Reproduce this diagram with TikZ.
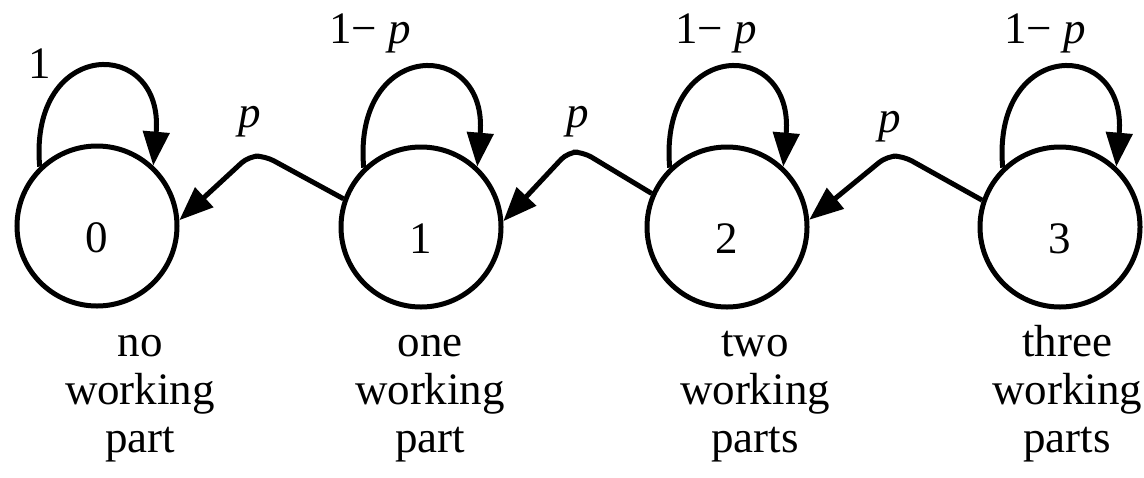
\documentclass[tikz,border=0pt]{standalone}
\usepackage{fontspec}
\setmainfont{Liberation Serif}
\usetikzlibrary{arrows.meta}

\begin{document}
\begin{tikzpicture}[x=0.5pt, y=0.5pt,
  every node/.style={font=\fontsize{22.5}{24}\selectfont},
  state/.style={draw, circle, line width=2.5pt, minimum size=80pt, inner sep=0pt, text height=26.5pt, text depth=0pt},
  trans/.style={line width=2.5pt, -{Triangle[length=17pt,width=13pt]}, rounded corners=5pt},
  desc/.style={align=center, anchor=north, inner sep=0pt}]
\useasboundingbox (0,0) rectangle (1144,-477);
% states
\node[state] (n0) at (97,-226) {0};
\node[state] (n1) at (421,-227) {1};
\node[state] (n2) at (727,-227) {2};
\node[state] (n3) at (1060,-227) {3};
% self loops
\draw[trans] (n0.134) .. controls +(95:130) and +(85:130) .. (n0.47);
\draw[trans] (n1.134) .. controls +(95:130) and +(85:130) .. (n1.47);
\draw[trans] (n2.134) .. controls +(95:130) and +(85:130) .. (n2.47);
\draw[trans] (n3.134) .. controls +(95:130) and +(85:130) .. (n3.47);
\node[anchor=base] (l0) at (40,-78) {1};
\node[anchor=base] (l1) at (370,-43) {1− \textit{p}};
\node[anchor=base] (l2) at (716,-43) {1− \textit{p}};
\node[anchor=base] (l3) at (1045,-43) {1− \textit{p}};
% failures
\coordinate (a10) at (265,-156); \coordinate (b10) at (249,-156);
\coordinate (a21) at (583,-152); \coordinate (b21) at (568,-152);
\coordinate (a32) at (903,-156); \coordinate (b32) at (887,-156);
\draw[trans] (n1.160) -- (a10) -- (b10) -- (n0.4);
\draw[trans] (n2.156) -- (a21) -- (b21) -- (n1.4);
\draw[trans] (n3.161) -- (a32) -- (b32) -- (n2.5);
\node[anchor=base] (p10) at (250,-127) {\textit{p}};
\node[anchor=base] (p21) at (578,-127) {\textit{p}};
\node[anchor=base] (p32) at (890,-132) {\textit{p}};
% descriptions
\node[desc] (d0) at (140,-322) {\strut no\\working\\part};
\node[desc] (d1) at (430,-322) {\strut one\\working\\part};
\node[desc] (d2) at (755,-322) {\strut two\\working\\parts};
\node[desc] (d3) at (1067,-322) {\strut three\\working\\parts};
\end{tikzpicture}
\end{document}
